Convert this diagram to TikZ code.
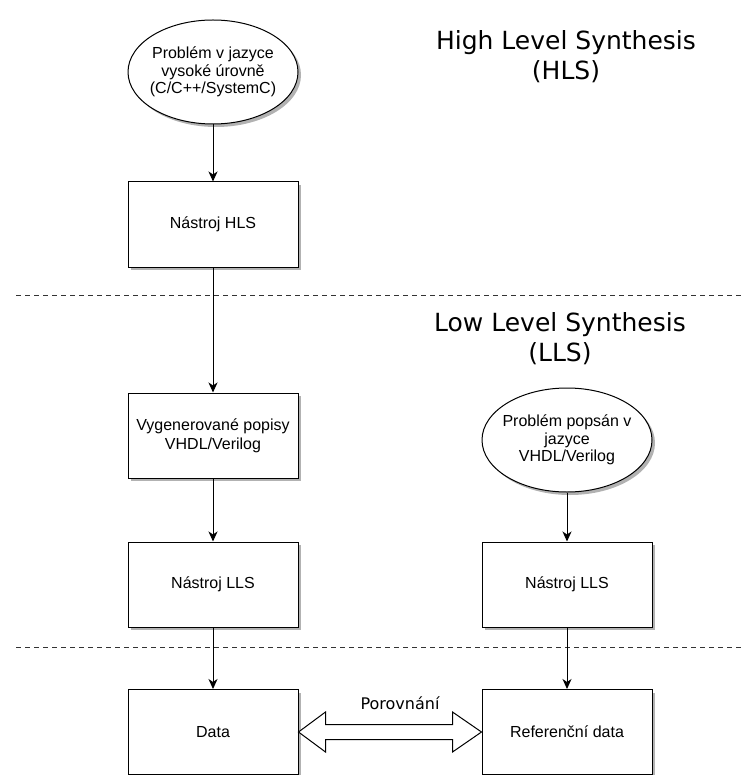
\documentclass[tikz,border=0pt]{standalone}
\usepackage{fontspec}
\setmainfont{Liberation Sans}
\newfontfamily\dvfont{DejaVu Sans}
\usetikzlibrary{shapes.geometric,shadows,arrows.meta,calc}
\begin{document}
\begin{tikzpicture}[x=1pt,y=-1pt,line width=1pt,
  shd/.style={drop shadow={shadow xshift=3pt,shadow yshift=-3pt,fill=black!30,opacity=1}},
  box/.style={draw,fill=white,shd,minimum width=170pt,minimum height=85pt,align=center,font=\fontsize{16}{19}\selectfont,inner sep=0pt},
  elli/.style={draw,fill=white,shd,ellipse,minimum width=170pt,minimum height=104pt,inner sep=0pt},
  etext/.style={align=center,font=\fontsize{16}{17.5}\selectfont},
  arr/.style={-{Stealth[length=10pt,width=9pt,inset=3pt]}},
  sep/.style={draw=black!80,dash pattern=on 5pt off 4pt},
  title/.style={align=center,font=\dvfont\fontsize{25}{30}\selectfont}]
\useasboundingbox (0,0) rectangle (742,775);

\node[elli,label={[etext]center:Problém v jazyce\\vysoké úrovně\\(C/C++/SystemC)}] (e1) at (213,72) {};
\node[box] (hls) at (213,224.5) {Nástroj HLS};
\node[box] (vyg) at (213,435.5) {Vygenerované popisy\\VHDL/Verilog};
\node[box] (lls1) at (213,584.5) {Nástroj LLS};
\node[box] (data) at (213,732) {Data};

\node[elli,label={[etext]center:Problém popsán v\\jazyce\\VHDL/Verilog}] (e2) at (567,440) {};
\node[box] (lls2) at (567,584.5) {Nástroj LLS};
\node[box] (ref) at (567,732) {Referenční data};

\node[title] (t1) at (566,57) {High Level Synthesis\\(HLS)};
\node[title] (t2) at (560,339) {Low Level Synthesis\\(LLS)};

\coordinate (s1a) at (16,295);
\coordinate (s1b) at (742,295);
\coordinate (s2a) at (16,647);
\coordinate (s2b) at (742,647);
\draw[sep] (s1a) -- (s1b);
\draw[sep] (s2a) -- (s2b);

\draw[arr] (e1.south) -- (hls.north);
\draw[arr] (hls.south) -- (vyg.north);
\draw[arr] (vyg.south) -- (lls1.north);
\draw[arr] (lls1.south) -- (data.north);
\draw[arr] (e2.south) -- (lls2.north);
\draw[arr] (lls2.south) -- (ref.north);

\draw[fill=white,line join=miter] (data.east) -- ($(data.east)+(27,-20)$) -- ($(data.east)+(27,-7.5)$)
  -- ($(ref.west)+(-29,-7.5)$) -- ($(ref.west)+(-29,-20)$) -- (ref.west)
  -- ($(ref.west)+(-29,20)$) -- ($(ref.west)+(-29,7.5)$)
  -- ($(data.east)+(27,7.5)$) -- ($(data.east)+(27,20)$) -- cycle;
\node[font=\dvfont\fontsize{16}{19}\selectfont] (por) at (400,703) {Porovnání};
\end{tikzpicture}
\end{document}
